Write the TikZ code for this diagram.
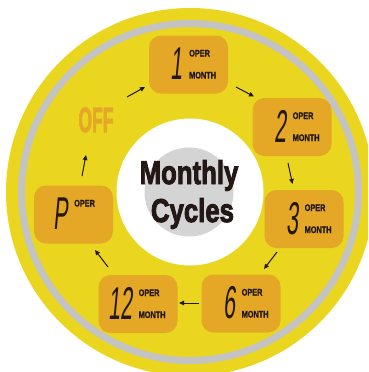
\documentclass[tikz,border=0pt]{standalone}
\usepackage{fontspec}
\setmainfont{Liberation Sans}
\newfontfamily\heavy{Liberation Sans}[BoldFeatures={FakeBold=1.5}]
\newfontfamily\heavier{Liberation Sans}[BoldFeatures={FakeBold=3}]
\newfontfamily\seg{Liberation Sans}[FakeSlant=0.2]
\usetikzlibrary{arrows.meta,calc}
\definecolor{ylw}{HTML}{EAD51F}
\definecolor{boxc}{HTML}{E4A826}
\definecolor{ringc}{HTML}{C3C3C3}
\definecolor{diskc}{HTML}{D4D4D4}
\definecolor{ink}{HTML}{231815}
\tikzset{
 lcdbox/.style={fill=boxc, rounded corners=12pt, minimum width=79pt, minimum height=58pt, inner sep=0pt},
 digit/.style={anchor=base east, inner sep=0pt, text=ink, font=\seg\fontsize{46}{46}\selectfont},
 small/.style={anchor=base west, inner sep=0pt, text=ink, font=\heavy\bfseries\fontsize{9.5}{9.5}\selectfont},
 arr/.style={-{Triangle[length=5pt,width=4.5pt]}, line width=1pt, draw=ink, fill=ink},
 big/.style={anchor=base, inner sep=0pt, text=ink, font=\heavier\bfseries\fontsize{33}{33}\selectfont},
}
\newcommand\lcd[4]{%
 \node[lcdbox] (#1) at (#2,#3) {};
 \node[digit] (#1d) at ($(#1)+(-5.5,15)$) {\scalebox{0.47}[1]{#4}};
 \node[small] (#1o) at ($(#1)+(0.5,-8)$) {\scalebox{0.77}[1]{OPER}};
}
\newcommand\lcdmonth[1]{%
 \node[small] (#1m) at ($(#1)+(0.5,14)$) {\scalebox{0.77}[1]{MONTH}};
}
\begin{document}
\begin{tikzpicture}[x=1pt,y=-1pt]
\useasboundingbox (0,0) rectangle (368,372);
\clip (0,0) rectangle (368,372);
\fill[ylw] (190,192) circle[radius=184pt];
\draw[ringc, line width=7pt] (190,192) circle[radius=168.5pt];
\fill[white] (190,192) circle[radius=73.5pt];
\fill[diskc] (189,192) circle[radius=44.5pt];
\node[big] (t1) at (189,184) {\scalebox{0.78}[1]{Monthly}};
\node[big] (t2) at (192.5,222) {\scalebox{0.78}[1]{Cycles}};
\node[anchor=base, inner sep=0pt, text=boxc, font=\heavier\bfseries\fontsize{35}{35}\selectfont] (off) at (96,132) {\scalebox{0.5}[1]{OFF}};
\lcd{b1}{188.5}{64.5}{1}\lcdmonth{b1}
\lcd{b2}{292}{127}{2}\lcdmonth{b2}
\lcd{b3}{304}{219}{3}\lcdmonth{b3}
\lcd{b6}{241}{303.5}{6}\lcdmonth{b6}
\lcd{b12}{138}{304}{12}\lcdmonth{b12}
\lcd{bp}{73.5}{214.5}{P}
\coordinate (a1s) at (127,97);  \coordinate (a1e) at (145,87);
\coordinate (a2s) at (236,87);  \coordinate (a2e) at (254,96.5);
\coordinate (a3s) at (288,163); \coordinate (a3e) at (292.5,184);
\coordinate (a4s) at (277,252); \coordinate (a4e) at (264,269);
\coordinate (a5s) at (199,303); \coordinate (a5e) at (179,303);
\coordinate (a6s) at (108,267); \coordinate (a6e) at (95,250);
\coordinate (a7s) at (82,176);  \coordinate (a7e) at (86,155);
\foreach \i in {1,...,7} {\draw[arr] (a\i s) -- (a\i e);}
\end{tikzpicture}
\end{document}
